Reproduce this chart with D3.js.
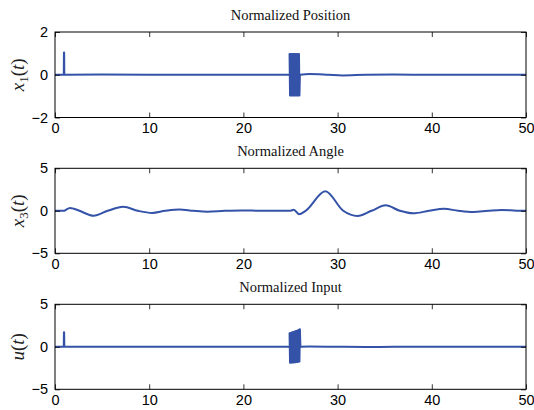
<!DOCTYPE html>
<html><head><meta charset="utf-8">
<script src="https://cdn.jsdelivr.net/npm/d3@7"></script>
<style>body{margin:0;background:#fff}svg{display:block}</style>
</head><body>
<script>
// ---- data ----
const titles = ["Normalized Position", "Normalized Angle", "Normalized Input"];
const yLabelBase = ["x", "x", "u"];
const yLabelSub = ["1", "3", ""];
const xTicks = [0, 10, 20, 30, 40, 50];
const yDomains = [[-2, 2], [-5, 5], [-5, 5]];
const yTicks = [[-2, 0, 2], [-5, 0, 5], [-5, 0, 5]];

// position x1(t): [t, value]
const positionPre = [[0,0],[0.93,0],[0.95,1.04],[0.97,1.04],[0.99,0],[5,0.01],[10,0],[20,0],[24.85,0]];
const positionBurst = [[24.9,0.97],[24.95,-0.97],[25.0,0.97],[25.05,-0.97],[25.1,0.97],[25.15,-0.97],[25.2,0.97],[25.25,-0.97],[25.3,0.97],[25.35,-0.97],[25.4,0.97],[25.45,-0.97],[25.5,0.97],[25.55,-0.97],[25.6,0.97],[25.65,-0.97],[25.7,0.97],[25.75,-0.97],[25.8,0.97],[25.85,-0.97],[25.9,0.97],[25.95,-0.97],[26.0,0]];
const positionPost = [[26.0,0],[27,0.03],[29,0.0],[30.5,-0.03],[33,0],[36,0.01],[40,0],[50,0]];

// angle x3(t)
const angle = [[0,0],[1.0,0],[1.2,0.15],[1.6,0.33],[2.0,0.25],[2.6,0],[4.1,-0.58],[5.6,0],[7.25,0.47],[8.8,0],[10.3,-0.25],[11.7,0],[13.2,0.16],[14.7,0],[16.2,-0.1],[18.0,0],[19.8,0.05],[22,0],[25.0,0.02],[25.35,0.12],[25.9,-0.4],[26.6,0],[28.7,2.3],[30.6,0],[32.1,-0.62],[33.6,0],[35.1,0.65],[36.6,0],[38.0,-0.3],[39.7,0],[41.3,0.24],[42.8,0],[44.4,-0.15],[46.0,0],[47.4,0.1],[49,0.02],[50,0]];

// input u(t)
const inputPre = [[0,0],[0.93,0],[0.95,1.7],[0.97,1.7],[0.99,0],[5,0.01],[10,0],[20,0],[24.85,0]];
const inputBurst = [[24.9,1.58],[24.95,-1.88],[25.0,1.62],[25.05,-1.87],[25.1,1.66],[25.15,-1.86],[25.2,1.7],[25.25,-1.85],[25.3,1.74],[25.35,-1.84],[25.4,1.78],[25.45,-1.83],[25.5,1.82],[25.55,-1.82],[25.6,1.86],[25.65,-1.8],[25.7,1.9],[25.75,-1.78],[25.8,1.95],[25.85,-1.75],[25.9,2.0],[25.95,-1.72],[26.0,2.06],[26.05,0]];
const inputPost = [[26.05,0],[27,0.03],[30,0],[33,-0.02],[36,0],[50,0]];

const seriesData = [
  [positionPre, positionBurst, positionPost],
  [angle],
  [inputPre, inputBurst, inputPost]
];
const smooth = [[false,false,true],[true],[false,false,true]];

// ---- layout ----
const W = 534, H = 410;
const left = 55, right = 526;
const panels = [{top:32, bottom:117.5},{top:168.3, bottom:253.3},{top:304.3, bottom:389.3}];
const lineColor = "#3352a8";

const svg = d3.select("body").append("svg").attr("width", W).attr("height", H);

const x = d3.scaleLinear().domain([0, 50]).range([left, right]);

panels.forEach((p, i) => {
  const y = d3.scaleLinear().domain(yDomains[i]).range([p.bottom, p.top]);
  const g = svg.append("g");

  const cid = "clip" + i;
  svg.append("clipPath").attr("id", cid).append("rect")
    .attr("x", left).attr("y", p.top).attr("width", right - left).attr("height", p.bottom - p.top);

  const plot = g.append("g").attr("clip-path", `url(#${cid})`);
  seriesData[i].forEach((d, k) => {
    const line = d3.line().x(v => x(v[0])).y(v => y(v[1]))
      .curve(smooth[i][k] ? d3.curveMonotoneX : d3.curveLinear);
    plot.append("path").datum(d).attr("d", line)
      .attr("fill", "none").attr("stroke", lineColor)
      .attr("stroke-width", 2).attr("stroke-linejoin", "round").attr("stroke-linecap", "round");
  });

  const ax = d3.axisBottom(x).tickValues(xTicks).tickSize(-5).tickPadding(5).tickFormat(d3.format("d"));
  const axT = d3.axisTop(x).tickValues(xTicks).tickSize(-5).tickFormat("");
  const ay = d3.axisLeft(y).tickValues(yTicks[i]).tickSize(-5).tickPadding(7).tickFormat(d => d < 0 ? "\u2212" + Math.abs(d) : d);
  const ayR = d3.axisRight(y).tickValues(yTicks[i]).tickSize(-5).tickFormat("");

  const styleAxis = sel => {
    sel.select(".domain").remove();
    sel.selectAll("line").attr("stroke", "#000").attr("stroke-width", 0.8);
    sel.selectAll("text").attr("font-family", "Liberation Sans, Arial, sans-serif").attr("font-size", 14.5).attr("fill", "#000");
  };
  g.append("g").attr("transform", `translate(0,${p.bottom})`).call(ax).call(styleAxis);
  g.append("g").attr("transform", `translate(0,${p.top})`).call(axT).call(styleAxis);
  g.append("g").attr("transform", `translate(${left},0)`).call(ay).call(styleAxis);
  g.append("g").attr("transform", `translate(${right},0)`).call(ayR).call(styleAxis);

  g.append("rect").attr("x", left).attr("y", p.top).attr("width", right - left).attr("height", p.bottom - p.top)
    .attr("fill", "none").attr("stroke", "#000").attr("stroke-width", 1);

  g.append("text").attr("x", (left + right) / 2).attr("y", p.top - 12)
    .attr("text-anchor", "middle").attr("font-family", "Liberation Serif, Times New Roman, serif")
    .attr("font-size", 14.5).attr("fill", "#111").text(titles[i]);

  const cy = (p.top + p.bottom) / 2;
  const lab = g.append("text").attr("transform", `translate(24,${cy}) rotate(-90)`)
    .attr("text-anchor", "middle").attr("font-family", "Liberation Serif, Times New Roman, serif")
    .attr("font-size", 19).attr("fill", "#222");
  lab.append("tspan").attr("font-style", "italic").text(yLabelBase[i]);
  if (yLabelSub[i]) lab.append("tspan").attr("font-size", 13).attr("dy", 4).text(yLabelSub[i]);
  lab.append("tspan").attr("dy", yLabelSub[i] ? -4 : 0).text("(");
  lab.append("tspan").attr("font-style", "italic").text("t");
  lab.append("tspan").text(")");
});
</script>
</body></html>
